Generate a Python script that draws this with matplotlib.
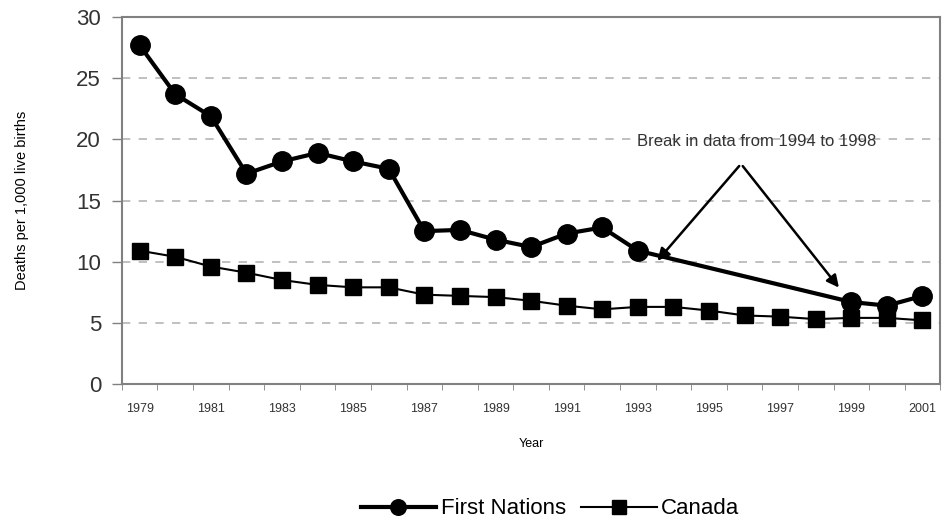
import matplotlib.pyplot as plt

plt.rcParams['font.family'] = ['Liberation Sans', 'DejaVu Sans']

# data
years = list(range(1979, 2002))
fn_years = [1979, 1980, 1981, 1982, 1983, 1984, 1985, 1986, 1987, 1988,
            1989, 1990, 1991, 1992, 1993, 1999, 2000, 2001]
fn_rate = [27.7, 23.7, 21.9, 17.2, 18.2, 18.9, 18.2, 17.6, 12.5, 12.6,
           11.8, 11.2, 12.3, 12.8, 10.9, 6.7, 6.4, 7.2]
canada_rate = [10.9, 10.4, 9.6, 9.1, 8.5, 8.1, 7.9, 7.9, 7.3, 7.2,
               7.1, 6.8, 6.4, 6.1, 6.3, 6.3, 6.0, 5.6, 5.5, 5.3, 5.4, 5.4, 5.2]
tick_labels = [str(y) for y in years[::2]]

fig = plt.figure(figsize=(9.45, 5.23), dpi=100)
ax = fig.add_axes([0.129, 0.266, 0.866, 0.701])

fn_x = [y - years[0] for y in fn_years]
ca_x = [y - years[0] for y in years]

ax.plot(ca_x, canada_rate, color='black', lw=1.5, marker='s', ms=12,
        label='Canada', zorder=3)
ax.plot(fn_x, fn_rate, color='black', lw=3, marker='o', ms=14,
        label='First Nations', zorder=4)

ax.set_xlim(-0.5, len(years) - 0.5)
ax.set_ylim(0, 30)
ax.set_yticks(range(0, 31, 5))
ax.set_xticks(ca_x[::2])
ax.set_xticklabels(tick_labels)
ax.set_xticks([i - 0.5 for i in range(len(years) + 1)], minor=True)
ax.tick_params(axis='x', which='major', length=0, pad=14, labelsize=9,
               labelcolor='#333333')
ax.tick_params(axis='x', which='minor', length=4, color='#808080')
ax.tick_params(axis='y', length=7, width=1, color='#808080', pad=8,
               labelsize=16, labelcolor='#333333')

for v in range(5, 30, 5):
    ax.axhline(v, color='#b5b5b5', lw=1.2, ls=(0, (5, 5)), zorder=1)

for s in ax.spines.values():
    s.set_color('#808080')
    s.set_linewidth(1.5)

ax.set_xlabel('Year', fontsize=9, labelpad=16)
ax.set_ylabel('Deaths per 1,000 live births', fontsize=10.5, labelpad=34)

# annotation for the gap in First Nations data
ax.text(17.35, 19.8, 'Break in data from 1994 to 1998', fontsize=12,
        ha='center', va='center', color='#333333')
arrow = dict(arrowstyle='-|>', color='black', lw=1.8, mutation_scale=18)
ax.annotate('', xy=(14.5, 9.9), xytext=(16.9, 18.0), arrowprops=arrow)
ax.annotate('', xy=(19.7, 7.7), xytext=(16.9, 18.0), arrowprops=arrow)

handles, labels = ax.get_legend_handles_labels()
fig.legend(handles[::-1], labels[::-1], loc='center', ncol=2,
           bbox_to_anchor=(0.582, 0.027), frameon=False, fontsize=16,
           handlelength=3.4, columnspacing=0.7, handletextpad=0.2,
           markerscale=0.8)

fig.savefig('out.png', dpi=100)
